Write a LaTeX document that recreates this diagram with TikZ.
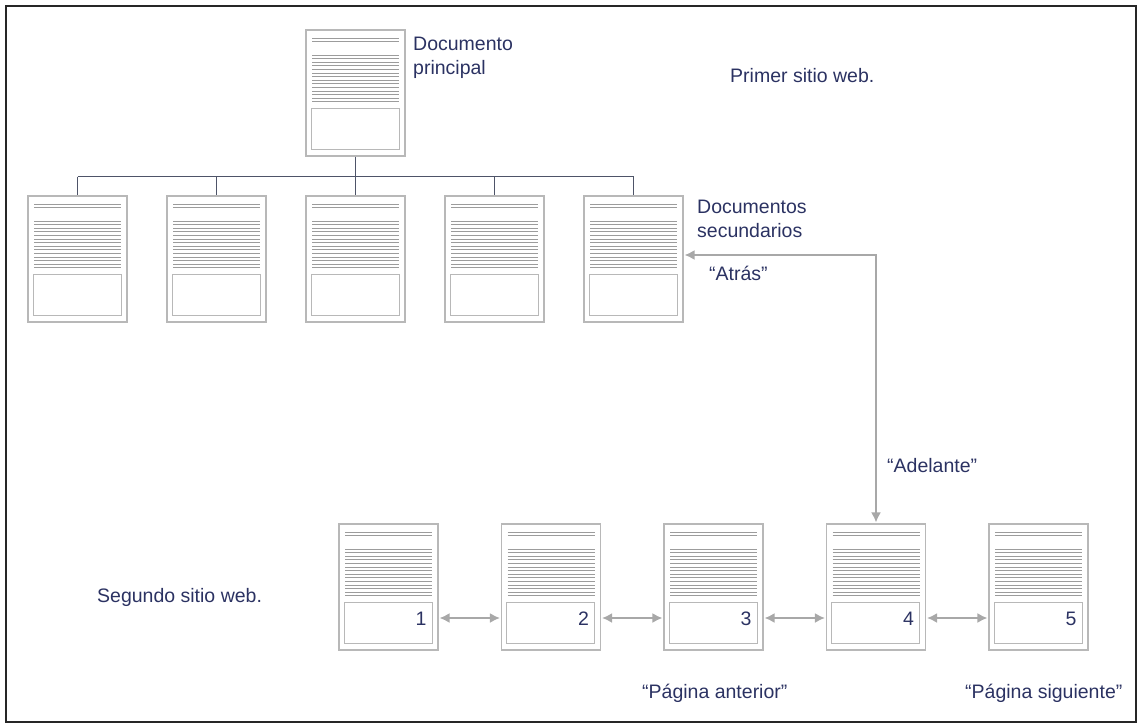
\documentclass[tikz,border=0pt]{standalone}
\usepackage{fontspec}
\setmainfont{Liberation Sans}
\usetikzlibrary{arrows.meta}
\definecolor{navy}{HTML}{2B3262}
\definecolor{pageline}{HTML}{B8B8B8}
\definecolor{textline}{HTML}{9C9C9C}
\definecolor{treeline}{HTML}{4E5468}
\definecolor{arrowgray}{HTML}{A8A8A8}
\tikzset{
  page/.style={draw=pageline, line width=1.1pt, minimum width=99pt, minimum height=126pt, inner sep=0pt,
    path picture={
      \foreach \t in {8,11}
        \draw[textline, line width=0.7pt] ([shift={(6,\t)}]path picture bounding box.north west) -- ++(87,0);
      \foreach \i in {0,...,13}
        \draw[textline, line width=0.8pt] ([shift={(6,25+3.6*\i)}]path picture bounding box.north west) -- ++(87,0);
      \draw[pageline, line width=1pt] ([shift={(5,78)}]path picture bounding box.north west)
        rectangle ([shift={(-6,-7)}]path picture bounding box.south east);
    }},
  lbl/.style={text=navy, font=\fontsize{19.5}{24}\selectfont, inner sep=0pt, align=left},
  tree/.style={draw=treeline, line width=1.1pt},
  nav/.style={draw=arrowgray, line width=1.8pt, {Latex[length=10pt,width=10pt]}-{Latex[length=10pt,width=10pt]}, shorten <=1pt, shorten >=1pt}
}
\begin{document}
\begin{tikzpicture}[x=1pt,y=-1pt]
  \useasboundingbox (0,0) rectangle (1141,728);
  \draw[line width=2pt, black!85] (6,6) rectangle (1136,722);
  % primer sitio web
  \node[page] (main) at (355.5,93) {};
  \foreach \x [count=\i] in {77.5,216.5,355.5,494.5,633.5}
    \node[page] (s\i) at (\x,259) {};
  \draw[tree] (main.south) -- ++(0,20) coordinate (bus);
  \draw[tree] (bus -| s1.north) -- (bus -| s5.north);
  \foreach \i in {1,...,5}
    \draw[tree] (bus -| s\i.north) -- (s\i.north);
  \node[lbl, anchor=base west] (princ) at (413,74) {Documento\\principal};
  \node[lbl, anchor=base west] (primer) at (730,82) {Primer sitio web.};
  \node[lbl, anchor=base west] (secund) at (697,237) {Documentos\\secundarios};
  % segundo sitio web
  \foreach \x [count=\i] in {388.5,551,713.5,876,1038.5} {
    \node[page] (p\i) at (\x,587) {};
    \node[lbl, anchor=base east] (n\i) at ([shift={(-12,-25)}]p\i.south east) {\i};
  }
  \foreach \a/\b in {1/2,2/3,3/4,4/5}
    \draw[nav] ([yshift=-31pt]p\a.east) -- ([yshift=-31pt]p\b.west);
  \coordinate (turn) at (876,255);
  \draw[nav] ([yshift=4pt]s5.east) -- (turn) -- (p4.north);
  \node[lbl, anchor=base west] (atras) at (709,280) {“Atrás”};
  \node[lbl, anchor=base west] (adelante) at (887,472) {“Adelante”};
  \node[lbl, anchor=base west] (segundo) at (97,602) {Segundo sitio web.};
  \node[lbl, anchor=base west] (anterior) at (642,698) {“Página anterior”};
  \node[lbl, anchor=base west] (siguiente) at (965,698) {“Página siguiente”};
\end{tikzpicture}
\end{document}
